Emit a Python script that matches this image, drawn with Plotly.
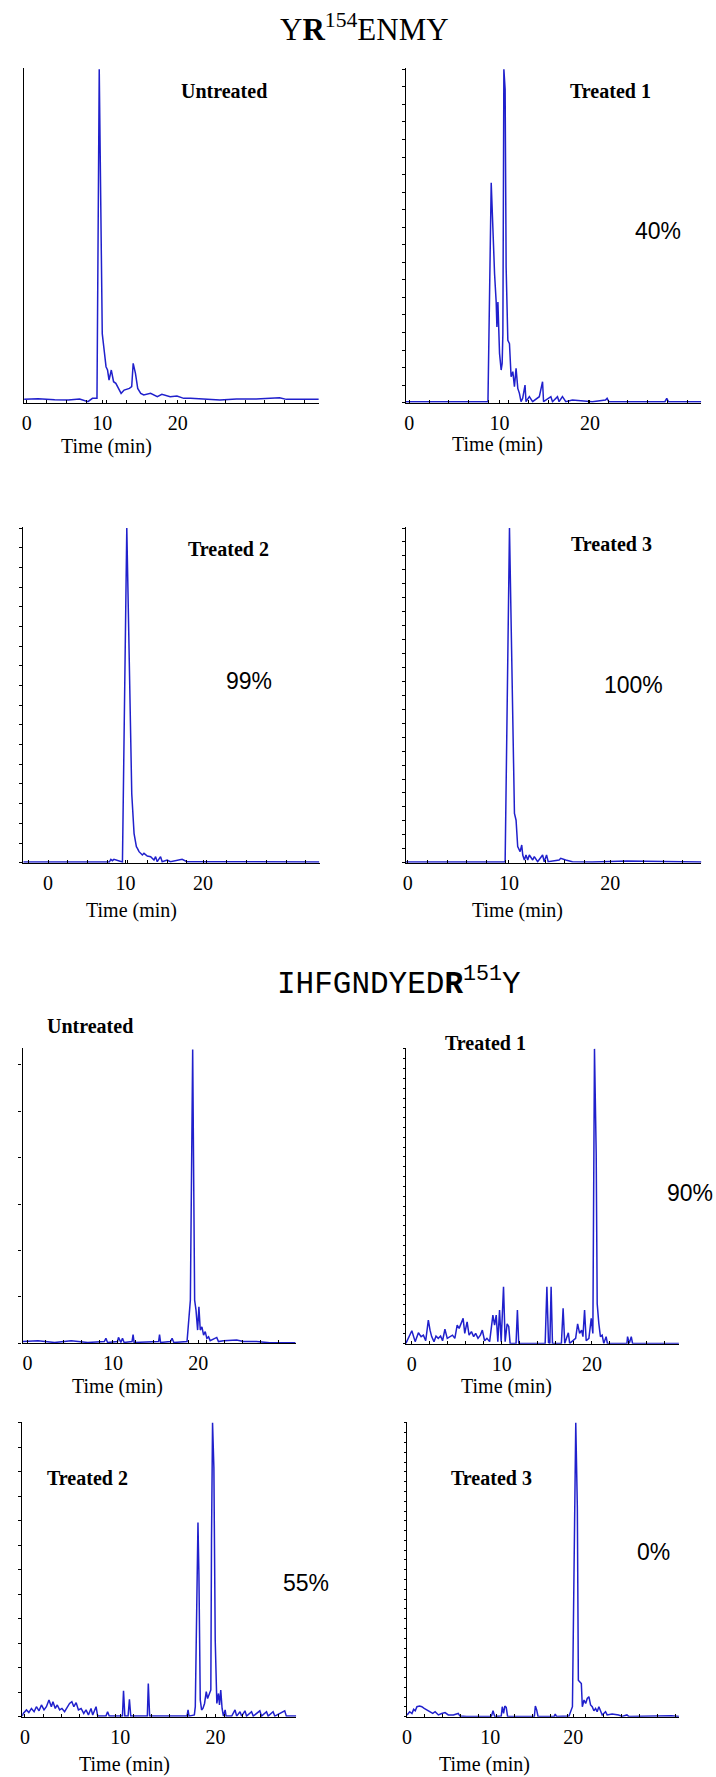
import plotly.graph_objects as go

W, H = 716, 1777
BLUE = "#2020cc"

# ---------------- data (time in min, relative intensity %) ----------------
# YR154ENMY
p1_time = [-0.35, 1.5, 3.7, 5.5, 7.0, 8.1, 8.7, 9.3, 9.6, 9.8, 10.0, 10.3, 10.5, 10.7, 10.9, 11.2, 11.5, 11.8,
           12.2, 12.5, 12.9, 13.6, 13.9, 14.1, 14.4, 14.7, 15.1, 15.5, 16.4, 17.3, 17.9, 19.0, 19.9, 20.8,
           21.7, 23.4, 25.6, 27.8, 30.4, 33.5, 34.4, 38.7]
p1_int = [1.0, 1.2, 0.9, 0.8, 1.1, 0.3, 1.3, 1.3, 100, 50.6, 20.7, 14.8, 10.8, 9.8, 6.8, 9.8, 6.3, 5.8,
          3.8, 2.8, 3.8, 4.3, 4.8, 11.8, 8.8, 4.3, 2.8, 2.3, 2.8, 1.8, 2.5, 1.8, 2.0, 1.3,
          1.3, 1.1, 0.8, 1.1, 1.1, 1.5, 1.0, 1.0]

p2_time = [-0.37, 5.6, 8.72, 9.08, 9.27, 9.45, 9.63, 9.71, 9.82, 9.89, 10.0, 10.18, 10.29, 10.37, 10.48,
           10.62, 10.73, 10.92, 11.1, 11.28, 11.47, 11.65, 11.83, 12.02, 12.2, 12.38, 12.56, 12.82, 12.93,
           13.3, 13.66, 14.4, 14.76, 14.87, 15.68, 15.86, 16.41, 16.59, 16.96, 17.33, 18.06, 20.26, 21.72,
           21.9, 22.09, 28.3, 28.5, 28.68, 32.35]
p2_int = [0.3, 0.3, 0.3, 66.0, 50.6, 38.7, 30.2, 22.7, 30.2, 22.7, 14.8, 9.8, 11.8, 20.7, 100,
          94.0, 40.6, 18.7, 17.7, 7.8, 9.3, 4.8, 10.3, 4.3, 2.8, 0.3, 1.3, 5.3, 0.3,
          1.8, 0.3, 1.8, 6.3, 0.3, 1.8, 0.3, 1.8, 0.3, 1.8, 0.3, 0.8, 0.3, 0.8,
          1.3, 0.3, 0.3, 1.3, 0.3, 0.3]

p3_time = [-3.2, 3.0, 7.9, 8.1, 8.3, 8.5, 9.4, 9.6, 10.16, 10.46, 10.8, 11.1, 11.23, 11.4, 11.53, 11.74,
           12.17, 12.38, 12.81, 13.24, 13.67, 13.88, 14.09, 14.52, 14.73, 15.37, 15.8, 16.65, 17.3, 17.94, 35.0]
p3_int = [0.2, 0.2, 0.2, 1.0, 0.6, 1.0, 0.2, 0.2, 100, 60.3, 20.6, 8.7, 6.7, 4.8, 4.3, 3.3,
          2.3, 2.8, 2.0, 1.8, 0.8, 1.8, 0.3, 1.8, 0.3, 0.8, 0.3, 0.8, 1.0, 0.3, 0.2]

p4_time = [-0.18, 5.15, 9.62, 10.05, 10.21, 10.37, 10.54, 10.7, 10.86, 11.1, 11.26, 11.36, 11.52, 11.68,
           11.85, 12.01, 12.34, 12.5, 12.83, 13.32, 13.48, 13.71, 13.87, 14.95, 15.11, 15.6, 16.26, 18.22,
           21.65, 29.0]
p4_int = [0.2, 0.2, 0.2, 100, 75.2, 40.5, 14.7, 12.7, 4.8, 3.3, 5.3, 2.3, 0.8, 2.3,
          0.8, 2.3, 0.8, 1.8, 0.3, 2.3, 0.3, 2.3, 0.3, 0.8, 1.3, 0.8, 0.3, 0.2,
          0.5, 0.2]

# IHFGNDYEDR151Y
p5_time = [-0.58, 1.23, 3.17, 5.11, 7.05, 8.99, 9.18, 9.37, 10.54, 10.65, 10.93, 11.12, 11.31, 12.24, 12.36,
           12.48, 15.35, 15.46, 15.58, 16.74, 16.93, 17.13, 18.68, 19.07, 19.34, 19.45, 19.57, 19.73, 19.92,
           20.07, 20.23, 20.42, 20.62, 20.81, 21.0, 21.2, 21.39, 22.16, 22.36, 22.94, 24.49, 25.27, 26.81,
           28.37, 31.39]
p5_int = [0.6, 0.9, 0.3, 0.9, 0.3, 0.6, 1.7, 0.3, 0.6, 2.0, 0.3, 1.7, 0.3, 0.6, 3.0,
          0.3, 0.6, 3.0, 0.3, 0.6, 1.7, 0.3, 0.6, 14.7, 100, 64.4, 14.7, 11.3, 4.5,
          12.4, 4.5, 5.6, 2.8, 4.0, 1.7, 2.2, 0.9, 2.0, 0.6, 0.9, 1.1, 0.6, 0.6,
          0.2, 0.2]

p6_time = [-0.64, 0.02, 0.39, 0.75, 1.05, 1.30, 1.56, 1.85, 2.04, 2.22,
           2.48, 2.70, 2.95, 3.21, 3.43, 3.69, 3.95, 4.24, 4.53, 4.79,
           5.05, 5.27, 5.53, 5.71, 5.89, 6.15, 6.37, 6.63, 6.88, 7.10,
           7.36, 7.62, 7.84, 8.09, 8.35, 8.65, 9.01, 9.20, 9.38, 9.56,
           9.75, 9.93, 10.19, 10.37, 10.59, 10.77, 10.92, 11.58, 11.73, 11.88,
           14.81, 15.0, 15.18, 15.33, 15.47, 15.62, 16.61, 16.80, 16.98, 17.24,
           17.38, 17.53, 18.19, 18.41, 18.63, 18.85, 19.0, 19.18, 19.36, 19.66,
           19.92, 20.10, 20.28, 20.47, 20.58, 20.76, 20.94, 21.13, 21.31, 21.57,
           21.71, 23.88, 23.95, 24.14, 24.36, 24.50, 29.64]
p6_int = [0.1, 4.4, 0.7, 3.7, 2.4, 2.9, 1.0, 8.0, 4.6, 2.4,
          0.7, 2.6, 1.8, 2.6, 1.0, 4.9, 1.8, 2.4, 2.9, 1.8,
          6.3, 5.2, 6.9, 8.6, 3.5, 7.4, 2.9, 4.1, 2.4, 3.5,
          1.8, 2.9, 4.6, 1.0, 1.8, 0.7, 9.7, 6.3, 9.7, 0.7,
          11.4, 0.7, 19.3, 0.7, 6.7, 5.8, 0.1, 0.1, 11.4, 0.1,
          0.1, 19.3, 0.4, 0.1, 19.3, 0.1, 0.1, 12.0, 0.1, 2.4,
          3.7, 0.1, 1.8, 6.7, 3.5, 4.6, 2.4, 11.4, 1.0, 1.8,
          8.6, 3.5, 100, 64.3, 13.6, 6.9, 2.4, 2.9, 0.1, 2.4,
          0.1, 0.1, 2.4, 0.1, 2.4, 0.1, 0.1]

p7_time = [-0.29, -0.18, 0.16, 0.41, 0.68, 0.96, 1.20, 1.48, 1.73, 2.0,
           2.25, 2.52, 2.77, 2.94, 3.18, 3.39, 3.64, 3.88, 4.16, 4.43,
           4.68, 4.92, 5.13, 5.37, 5.61, 5.89, 6.17, 6.41, 6.66, 6.93,
           7.11, 7.46, 7.63, 8.50, 8.67, 8.84, 10.23, 10.34, 10.48, 10.82,
           10.96, 11.10, 12.84, 12.94, 13.08, 17.0, 17.11, 17.21, 17.77, 17.87,
           18.04, 18.15, 18.25, 18.39, 18.53, 18.67, 18.84, 19.02, 19.16, 19.33,
           19.50, 19.57, 19.68, 19.82, 19.96, 20.13, 20.30, 20.41, 20.54, 20.68,
           20.82, 21.0, 21.10, 21.69, 22.04, 22.21, 22.56, 22.73, 23.08, 23.25,
           23.77, 23.95, 24.64, 24.82, 25.34, 25.51, 26.03, 26.21, 27.25, 27.42,
           28.46]
p7_int = [0.2, 1.1, 2.3, 1.4, 2.8, 1.7, 3.4, 2.0, 4.0, 2.3,
          3.4, 5.7, 3.4, 5.1, 2.8, 4.0, 2.3, 2.8, 1.7, 3.4,
          4.5, 5.1, 3.4, 4.8, 2.3, 2.8, 1.1, 2.3, 0.6, 2.8,
          0.6, 3.4, 0.2, 0.2, 1.7, 0.2, 0.2, 8.8, 0.2, 0.2,
          5.9, 0.2, 0.2, 11.3, 0.2, 0.2, 2.3, 0.2, 0.6, 3.4,
          48.6, 66.1, 48.6, 5.7, 2.3, 2.8, 4.5, 8.5, 6.2, 7.9,
          9.1, 59.9, 100, 84.8, 26.0, 4.5, 7.9, 4.0, 9.1, 2.8,
          0.2, 2.3, 0.2, 0.2, 2.3, 0.2, 1.7, 0.2, 2.0, 0.2,
          1.7, 0.2, 2.0, 0.2, 1.7, 0.2, 1.7, 0.2, 2.0, 0.2,
          0.2]

p8_time = [0.0, 0.32, 0.59, 0.79, 0.99, 1.19, 1.51, 1.78, 2.06, 2.39,
           2.78, 3.09, 3.38, 3.77, 4.17, 4.57, 4.96, 5.57, 6.16, 6.36,
           7.16, 10.14, 10.34, 10.54, 11.33, 11.45, 11.61, 11.76, 11.93, 12.09,
           15.31, 15.43, 15.59, 15.75, 17.70, 17.82, 17.97, 19.48, 19.89, 20.09,
           20.29, 20.48, 20.60, 20.76, 20.96, 21.08, 21.28, 21.48, 21.67, 21.87,
           22.07, 22.27, 22.47, 22.67, 22.86, 23.07, 23.27, 23.47, 23.87, 24.06,
           24.66, 25.45, 25.85, 26.44, 26.65, 28.44, 31.82, 32.70]
p8_int = [0.6, 1.7, 1.1, 2.5, 2.0, 3.4, 3.6, 3.4, 2.8, 2.3,
          1.7, 1.1, 1.7, 0.6, 1.1, 1.4, 0.6, 0.6, 1.1, 0.2,
          0.1, 0.1, 2.0, 0.1, 0.2, 3.4, 1.1, 3.6, 3.2, 0.1,
          0.1, 3.6, 2.3, 0.1, 0.1, 0.9, 0.1, 0.2, 3.4, 48.6,
          100, 71.2, 12.4, 11.9, 11.3, 3.4, 5.7, 4.5, 6.2, 6.8,
          4.0, 3.4, 2.0, 2.8, 1.7, 3.4, 2.0, 0.6, 1.7, 0.6,
          0.9, 0.6, 0.1, 0.6, 0.1, 0.2, 0.3, 0.1]

tick_values = [0, 10, 20]
tick_labels = ["0", "10", "20"]
panel_titles = ["Untreated", "Treated 1", "Treated 2", "Treated 3",
                "Untreated", "Treated 1", "Treated 2", "Treated 3"]
percent_labels = ["", "40%", "99%", "100%", "", "90%", "55%", "0%"]
section_titles = ["Y<b>R</b><sup>154</sup>ENMY", "IHFGNDYED<b>R</b><sup>151</sup>Y"]
axis_title = "Time (min)"

times = [p1_time, p2_time, p3_time, p4_time, p5_time, p6_time, p7_time, p8_time]
ints = [p1_int, p2_int, p3_int, p4_int, p5_int, p6_int, p7_int, p8_int]

# ---------------- layout (pixel geometry of each panel) ----------------
# left, right, top, bottom (px), x range, x minor tick step, y tick step, y tick len
geom = [
    (19.0, 316.0, 68.0, 402.7, (-0.39, 38.7), 2.63, None, 0),
    (403.7, 701.0, 68.0, 402.7, (-0.36, 32.3), 2.2, 100 / 19, 3),
    (18.3, 317.0, 526.7, 862.7, (-3.22, 35.08), 2.56, 100 / 17, 3),
    (403.7, 701.3, 526.7, 862.7, (-0.18, 29.0), 1.94, 100 / 24, 2.5),
    (17.7, 292.7, 1048.3, 1343.3, (-0.58, 31.4), 2.1, 15.8, 3),
    (403.7, 678.7, 1047.7, 1343.7, (-0.64, 29.65), 2.0, 100 / 30, 2),
    (17.3, 293.3, 1421.7, 1716.7, (-0.29, 28.46), 1.9, 100 / 12, 3),
    (404.7, 678.7, 1421.7, 1716.7, (-0.02, 32.7), 2.15, 100 / 30, 2),
]

title_pos = [(220.8, 91), (610, 91), (224.7, 549), (610.5, 544.3),
             (85.8, 1026), (484.2, 1042.6), (83.3, 1477.6), (490, 1477.6)]
pct_pos = [None, (657.3, 231.3), (245.5, 681.3), (633, 685.3),
           None, (665.0, 1193), (303, 1582.7), (652.7, 1552)]
time_pos = [(102.5, 446), (495.5, 445), (127.8, 910), (516, 910),
            (112.8, 1386), (505, 1386.6), (120, 1764), (483, 1764)]
section_pos = [(362, 28, "Liberation Serif"), (396.5, 982, "Liberation Mono")]

SERIF = "Liberation Serif"
SANS = "Liberation Sans"

fig = go.Figure()
layout_axes = {}
for i in range(8):
    n = i + 1
    xa = "x" if n == 1 else f"x{n}"
    ya = "y" if n == 1 else f"y{n}"
    left, right, top, bottom, xr, xminor, ydt, ylen = geom[i]
    fig.add_trace(go.Scatter(
        x=times[i], y=ints[i], mode="lines",
        line=dict(color=BLUE, width=1.5),
        xaxis=xa, yaxis=ya, hoverinfo="skip", showlegend=False))
    layout_axes["xaxis" if n == 1 else f"xaxis{n}"] = dict(
        domain=[left / W, right / W], anchor=ya, range=list(xr),
        showline=True, linecolor="black", linewidth=1.3, mirror=False,
        showgrid=False, zeroline=False,
        tickmode="array", tickvals=tick_values, ticktext=tick_labels,
        ticks="inside", ticklen=3, tickwidth=1, tickcolor="black",
        tickfont=dict(family=SERIF, size=20, color="black"),
        ticklabelstandoff=2,
        minor=dict(ticks="inside", ticklen=3, tickwidth=1, tickcolor="black",
                   tick0=0, dtick=xminor, showgrid=False),
    )
    ydict = dict(
        domain=[1 - bottom / H, 1 - top / H], anchor=xa, range=[0, 100.4],
        showline=True, linecolor="black", linewidth=1.2,
        showgrid=False, zeroline=False, showticklabels=False,
    )
    if ydt:
        ydict.update(ticks="outside", ticklen=ylen, tickwidth=1, tickcolor="black",
                     tickmode="linear", tick0=0, dtick=ydt)
    else:
        ydict.update(ticks="")
    layout_axes["yaxis" if n == 1 else f"yaxis{n}"] = ydict

annotations = []


def ann(text, xpx, ypx, family, size, xanchor="center"):
    annotations.append(dict(
        text=text, x=xpx / W, y=1 - ypx / H, xref="paper", yref="paper",
        xanchor=xanchor, yanchor="middle", showarrow=False,
        font=dict(family=family, size=size, color="black")))


for (x, y, fam), txt in zip(section_pos, section_titles):
    ann(txt, x, y, fam, 31)
for i in range(8):
    ann(f"<b>{panel_titles[i]}</b>", title_pos[i][0], title_pos[i][1], SERIF, 20)
    ann(axis_title, time_pos[i][0], time_pos[i][1], SERIF, 20)
    if pct_pos[i]:
        anchor = "left" if percent_labels[i] == "90%" else "center"
        ann(percent_labels[i], pct_pos[i][0], pct_pos[i][1], SANS, 23, xanchor=anchor)

fig.update_layout(
    width=W, height=H, autosize=False,
    margin=dict(l=0, r=0, t=0, b=0),
    paper_bgcolor="white", plot_bgcolor="white",
    showlegend=False, annotations=annotations,
    **layout_axes)

fig.write_html("out.html", config={"displayModeBar": False},
               post_script="document.body.style.margin='0px';")
